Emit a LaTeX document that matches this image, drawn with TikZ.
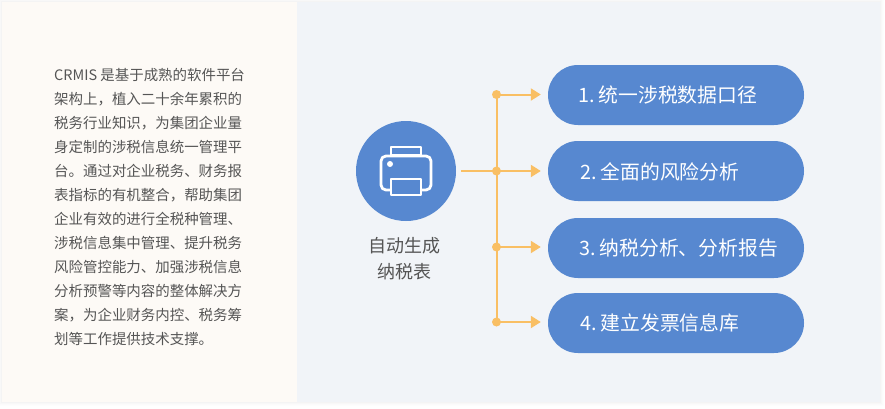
\documentclass[tikz,border=0pt]{standalone}
\usepackage{fontspec}
\setmainfont{Noto Sans CJK SC}
\usetikzlibrary{arrows.meta}
\definecolor{pillblue}{HTML}{5788D0}
\definecolor{leftbg}{HTML}{FDFAF6}
\definecolor{rightbg}{HTML}{F1F4F8}
\definecolor{linkc}{HTML}{F9BF64}
\definecolor{txt}{HTML}{555555}
\tikzset{
  x=1pt,y=-1pt,
  pill/.style={fill=pillblue,rounded corners=30pt,minimum width=256pt,minimum height=60pt,inner sep=0pt},
  pilltext/.style={anchor=west,inner sep=0pt,text=white,font=\fontsize{19.8}{22}\selectfont},
  bus/.style={draw=linkc,line width=2pt},
  link/.style={bus,-{Triangle[length=10pt,width=12pt]},shorten >=7pt},
  joint/.style={circle,fill=linkc,minimum size=9pt,inner sep=0pt},
  icon/.style={draw=white,line width=2.8pt,line join=round},
}
\begin{document}
\begin{tikzpicture}
\useasboundingbox (0,0) rectangle (885,408);
\fill[white] (0,0) rectangle (885,408);
\foreach \o/\a in {4/.006,3/.008,2/.01,1/.015}{
  \fill[black,opacity=\a] (2-\o,2-\o) rectangle (880+\o,402+\o);
}
\fill[leftbg] (2,2) rectangle (297,402);
\fill[rightbg] (297,2) rectangle (880,402);

\node[anchor=north west,inner sep=0pt,align=left,text=txt,font=\fontsize{14.45}{24}\selectfont] (intro) at (54,68)
 {CRMIS 是基于成熟的软件平台\\
 架构上，植入二十余年累积的\\
 税务行业知识，为集团企业量\\
 身定制的涉税信息统一管理平\\
 台。通过对企业税务、财务报\\
 表指标的有机整合，帮助集团\\
 企业有效的进行全税种管理、\\
 涉税信息集中管理、提升税务\\
 风险管控能力、加强涉税信息\\
 分析预警等内容的整体解决方\\
 案，为企业财务内控、税务筹\\
 划等工作提供技术支撑。};

\node[circle,fill=pillblue,minimum size=100pt,inner sep=0pt] (printer) at (406,171) {};
\draw[icon,rounded corners=5pt] (390,190) -- (381,190) -- (381,156) -- (431,156) -- (431,190) -- (422,190);
\draw[icon] (391,155.5) rectangle (421,147);
\draw[icon] (391,179) rectangle (421,195);
\fill[white] (390,164) circle (3);

\node[inner sep=0pt,align=center,text=txt,anchor=north,font=\fontsize{18}{26}\selectfont] (cap) at (404,237)
 {自动生成\\纳税表};

\node[pill] (p1) at (676,95) {};
\node[pill] (p2) at (676,171) {};
\node[pill] (p3) at (676,248) {};
\node[pill] (p4) at (676,323) {};
\node[pilltext] (t1) at (578,95) {1.\hspace{-2pt} 统一涉税数据口径};
\node[pilltext] (t2) at (580,171.5) {2.\hspace{-2pt} 全面的风险分析};
\node[pilltext] (t3) at (579,248) {3.\hspace{-2pt} 纳税分析、分析报告};
\node[pilltext] (t4) at (580,323) {4.\hspace{-2pt} 建立发票信息库};

\coordinate (start) at (461,171);
\node[joint] (j1) at (496.5,94.5) {};
\node[joint] (j2) at (496.5,171) {};
\node[joint] (j3) at (496.5,247) {};
\node[joint] (j4) at (496.5,322) {};
\draw[bus] (j1.center) -- (j4.center);
\draw[bus] (start) -- (j2.center);
\draw[link] (j1.center) -- (p1.west |- j1);
\draw[link] (j2.center) -- (p2.west |- j2);
\draw[link] (j3.center) -- (p3.west |- j3);
\draw[link] (j4.center) -- (p4.west |- j4);
\end{tikzpicture}
\end{document}
